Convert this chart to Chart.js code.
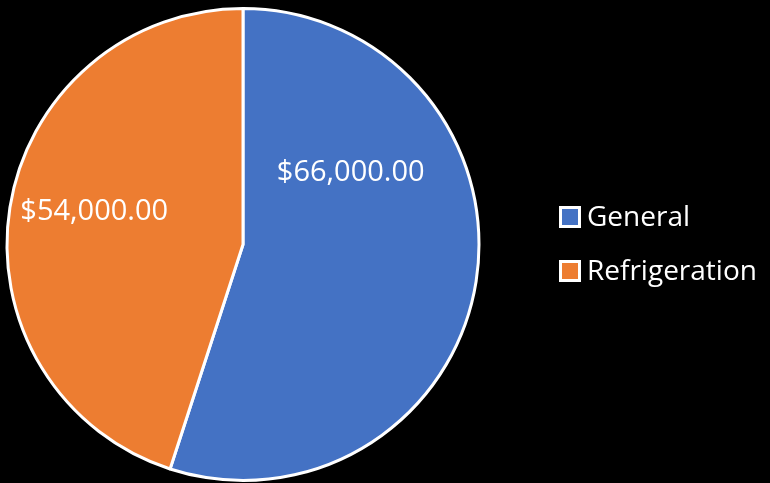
<!DOCTYPE html>
<html>
<head>
<meta charset="utf-8">
<script src="https://cdn.jsdelivr.net/npm/chart.js"></script>
<style>
  html, body { margin: 0; padding: 0; background: #000; }
  #wrap { width: 770px; height: 483px; position: relative; }
</style>
</head>
<body>
<div id="wrap"><canvas id="pieChart"></canvas></div>
<script>
// Data
const categories = ['General', 'Refrigeration'];
const amounts = [66000, 54000];
const sliceColors = ['#4472C4', '#ED7D31'];

const fontFamily = "'Open Sans', 'Liberation Sans', sans-serif";

const money = v => '$' + v.toLocaleString('en-US', { minimumFractionDigits: 2, maximumFractionDigits: 2 });

// Value labels drawn inside each slice (angle as fraction of slice, radius fraction)
const sliceLabels = {
    id: 'sliceLabels',
    afterDatasetsDraw(chart, args, opts) {
        const { ctx } = chart;
        const meta = chart.getDatasetMeta(0);
        ctx.save();
        ctx.fillStyle = '#fff';
        ctx.font = '29px ' + fontFamily;
        ctx.textAlign = 'center';
        ctx.textBaseline = 'middle';
        meta.data.forEach((arc, i) => {
            const p = opts.place[i];
            const a = arc.startAngle + (arc.endAngle - arc.startAngle) * p.at;
            const r = arc.outerRadius * p.r;
            ctx.fillText(money(chart.data.datasets[0].data[i]), arc.x + Math.cos(a) * r, arc.y + Math.sin(a) * r);
        });
        ctx.restore();
    }
};

// Legend on the right
const sideLegend = {
    id: 'sideLegend',
    afterDraw(chart, args, opts) {
        const { ctx } = chart;
        ctx.save();
        ctx.font = '28px ' + fontFamily;
        ctx.textBaseline = 'middle';
        chart.data.labels.forEach((lab, i) => {
            const y = opts.top + i * opts.gap;
            ctx.fillStyle = '#fff';
            ctx.fillRect(opts.left, y - 11, 22, 22);
            ctx.fillStyle = sliceColors[i];
            ctx.fillRect(opts.left + 3, y - 8, 16, 16);
            ctx.fillStyle = '#fff';
            ctx.fillText(lab, opts.left + 28, y + 1);
        });
        ctx.restore();
    }
};

new Chart(document.getElementById('pieChart'), {
    type: 'pie',
    data: {
        labels: categories,
        datasets: [{
            data: amounts,
            backgroundColor: sliceColors,
            borderColor: '#fff',
            borderWidth: 3
        }]
    },
    options: {
        responsive: true,
        maintainAspectRatio: false,
        animation: false,
        layout: { padding: { left: 5, right: 289, top: 7, bottom: 1 } },
        plugins: {
            legend: { display: false },
            tooltip: { enabled: false },
            sliceLabels: { place: [{ at: 0.285, r: 0.548 }, { at: 0.52, r: 0.645 }] },
            sideLegend: { left: 559, top: 217, gap: 54 }
        }
    },
    plugins: [sliceLabels, sideLegend]
});
</script>
</body>
</html>
